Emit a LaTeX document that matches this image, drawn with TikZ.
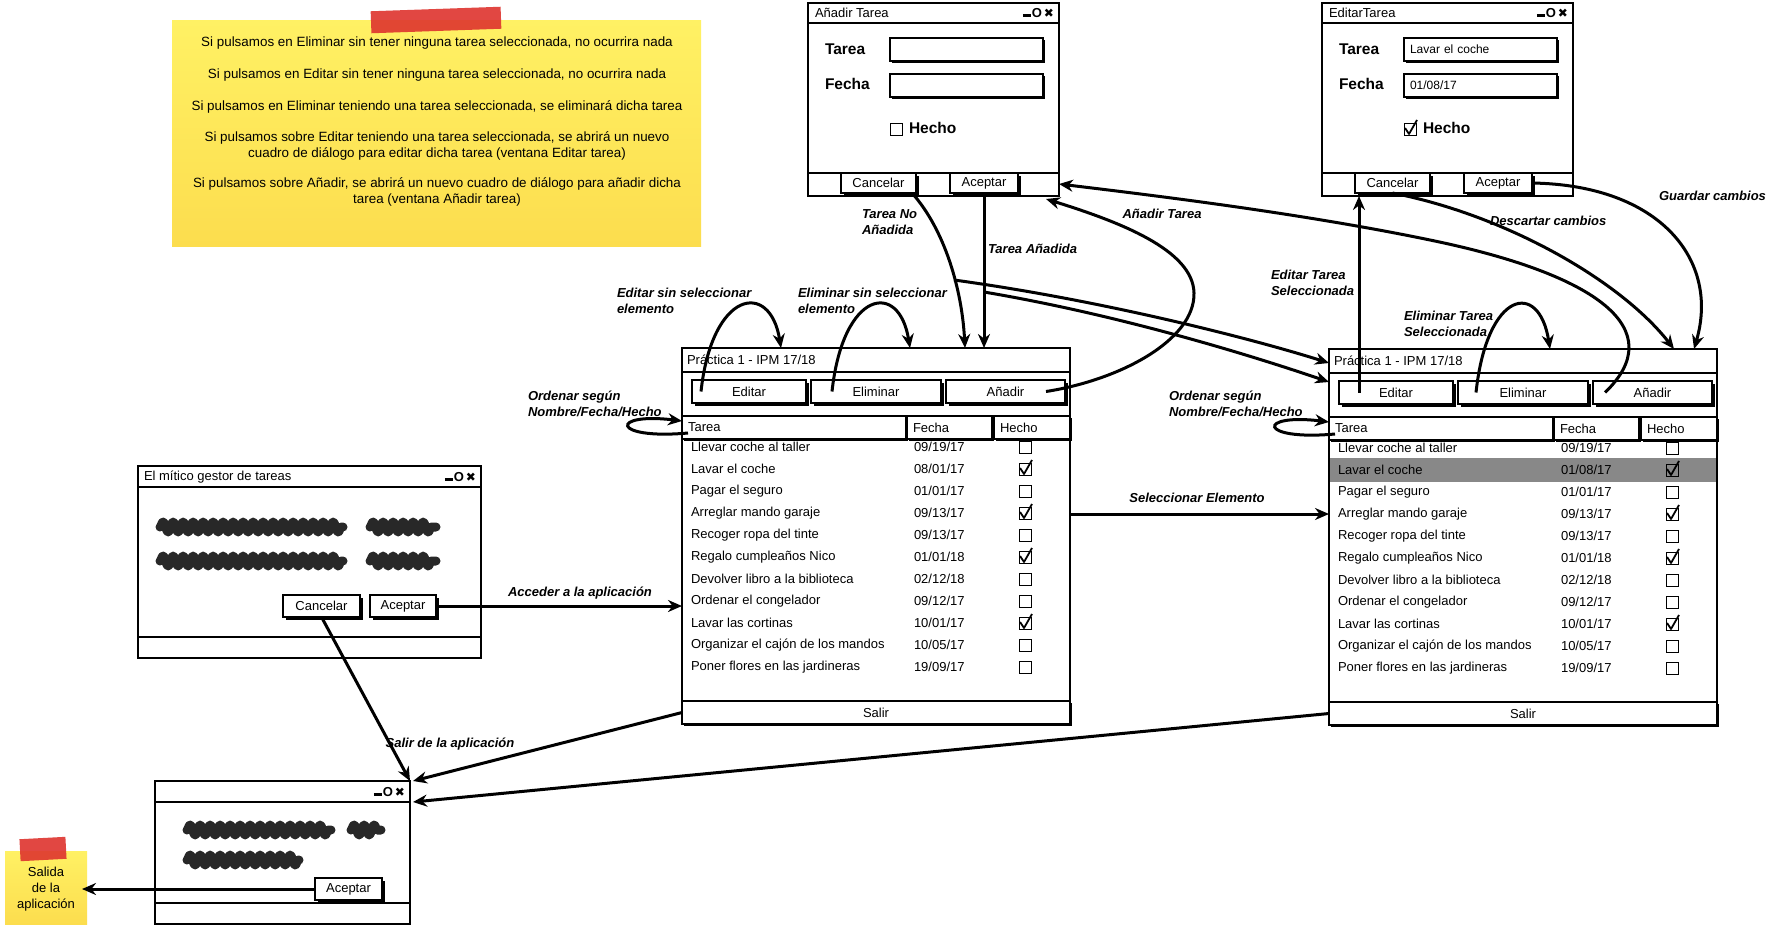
\documentclass[tikz,border=0pt]{standalone}
\usepackage{fontspec}
\setmainfont{Liberation Sans}
\newfontfamily\dejavu{DejaVu Sans}
\usepackage{tikz}
\usetikzlibrary{arrows.meta}
\usetikzlibrary{shadows}
\usetikzlibrary{decorations.pathmorphing}
\tikzset{>={Stealth[length=14pt,width=12pt]}}
\definecolor{notetop}{RGB}{255,241,100}
\definecolor{notebot}{RGB}{252,221,78}
\definecolor{tapered}{RGB}{222,52,46}
\definecolor{rowsel}{RGB}{136,136,136}
\definecolor{ink}{RGB}{40,40,40}
\tikzstyle{win} = [draw, fill=white, line width=2.5pt, inner sep=0, outer sep=0]
\tikzstyle{btn} = [draw, fill=white, line width=2pt, inner sep=0, outer sep=0, font=\fontsize{13}{15}\selectfont, drop shadow={shadow xshift=2.5pt, shadow yshift=-2.5pt, opacity=1, fill=black}]
\tikzstyle{cell} = [draw, fill=white, line width=2pt, inner xsep=6pt, inner ysep=0, outer sep=0, minimum height=23pt, align=left, font=\fontsize{13}{15}\selectfont, drop shadow={shadow xshift=1.5pt, shadow yshift=-1.5pt, opacity=1, fill=black}]
\tikzstyle{field} = [draw, fill=white, line width=2pt, inner xsep=6pt, inner ysep=0, outer sep=0, minimum height=23pt, text width=141pt, align=left, font=\fontsize{12}{14}\selectfont, drop shadow={shadow xshift=1.5pt, shadow yshift=-1.5pt, opacity=1, fill=black}]
\tikzstyle{txt} = [inner sep=0, outer sep=0, anchor=west, font=\fontsize{13}{15}\selectfont]
\tikzstyle{big} = [inner sep=0, outer sep=0, anchor=west, font=\fontsize{15.5}{17}\selectfont\bfseries]
\tikzstyle{chk} = [draw, line width=1pt, minimum size=12pt, inner sep=0, outer sep=0]
\tikzstyle{ticked} = [line width=1.8pt, line join=round]
\tikzstyle{ctl} = [inner sep=0, outer sep=0, anchor=east, font=\fontsize{13}{15}\selectfont\bfseries]
\tikzstyle{scrib} = [draw=ink, line width=9pt, line cap=round, line join=round, decorate, decoration={snake, amplitude=5pt, segment length=10pt}]
\tikzstyle{flow} = [->, line width=3pt]
\tikzstyle{lbl} = [inner sep=0, outer sep=0, align=left, font=\fontsize{13}{16}\selectfont\bfseries\itshape]
\tikzstyle{note} = [top color=notetop, bottom color=notebot, inner sep=0, outer sep=0]
\tikzstyle{tape} = [fill=tapered, fill opacity=.9]

\newcommand\ctlglyphs{\rule[0pt]{8pt}{3pt}\kern1pt O\kern2pt{\dejavu\fontsize{12}{14}\selectfont ✖}}

% dialogo: nombre, x, titulo, tarea, fecha, hecho
\newcommand\dialog[6]{%
\begin{scope}[shift={(#2,3)}]
\node[win, minimum width=251pt, minimum height=193pt, anchor=north west] (#1) at (0,0) {};
\node[win, minimum width=251pt, minimum height=20pt, anchor=north west] (#1-title) at (0,0) {};
\node[txt] (#1-name) at (7,10) {#3};
\node[ctl] (#1-ctl) at (246,10) {\ctlglyphs};
\node[big] (#1-ltarea) at (17,46) {Tarea};
\node[field, anchor=north west] (#1-ftarea) at (82,35) {#4};
\node[big] (#1-lfecha) at (17,81) {Fecha};
\node[field, anchor=north west] (#1-ffecha) at (82,71) {#5};
\node[chk] (#1-chk) at (88,126) {};
\ifnum#6=1 \draw[ticked] (83,125) -- (87,131) -- (95,117); \fi
\node[big] (#1-hecho) at (101,125) {Hecho};
\node[win, minimum width=251pt, minimum height=23pt, anchor=north west] (#1-bar) at (0,170) {};
\node[btn, minimum width=75pt, minimum height=20pt, anchor=north west] (#1-cancel) at (33,170) {Cancelar};
\node[btn, minimum width=68pt, minimum height=20pt, anchor=north west] (#1-ok) at (142,170) {Aceptar};
\end{scope}}

% ventana principal: nombre, x, y, fecha fila 2, color fila 2
\newcommand\mainwin[5]{%
\begin{scope}[shift={(#2,#3)}]
\node[win, minimum width=388pt, minimum height=376pt, anchor=north west] (#1) at (0,0) {};
\node[win, minimum width=388pt, minimum height=24pt, anchor=north west] (#1-title) at (0,0) {};
\node[txt] (#1-name) at (5,12) {Práctica 1 - IPM 17/18};
\node[btn, minimum width=114pt, minimum height=23pt, anchor=north west] (#1-edit) at (10,32) {Editar};
\node[btn, minimum width=130pt, minimum height=23pt, anchor=north west] (#1-del) at (129,32) {Eliminar};
\node[btn, minimum width=119pt, minimum height=23pt, anchor=north west] (#1-add) at (264,32) {Añadir};
\node[cell, text width=212pt, anchor=north west] (#1-htarea) at (0,68) {Tarea};
\node[cell, text width=73pt, anchor=north west] (#1-hfecha) at (225,68) {Fecha};
\node[cell, text width=64pt, anchor=north west] (#1-hhecho) at (312,68) {Hecho};
\fill[#5] (1.3,109) rectangle (386.7,133);
\foreach \k/\tname/\tdate/\tdone in {0/{Llevar coche al taller}/{09/19/17}/0,
  1/{Lavar el coche}/{#4}/1, 2/{Pagar el seguro}/{01/01/17}/0,
  3/{Arreglar mando garaje}/{09/13/17}/1, 4/{Recoger ropa del tinte}/{09/13/17}/0,
  5/{Regalo cumpleaños Nico}/{01/01/18}/1, 6/{Devolver libro a la biblioteca}/{02/12/18}/0,
  7/{Ordenar el congelador}/{09/12/17}/0, 8/{Lavar las cortinas}/{10/01/17}/1,
  9/{Organizar el cajón de los mandos}/{10/05/17}/0, 10/{Poner flores en las jardineras}/{19/09/17}/0}{
  \node[txt] (#1-t\k) at (9,{99+22*\k}) {\tname};
  \node[txt] (#1-d\k) at (232,{99+22*\k}) {\tdate};
  \node[chk] (#1-c\k) at (343,{99+22*\k}) {};
  \ifnum\tdone=1 \draw[ticked] (338,{98+22*\k}) -- (342,{104+22*\k}) -- (350,{90+22*\k}); \fi
}
\node[cell, minimum width=388pt, anchor=north west] (#1-salir) at (0,353) {Salir};
\end{scope}}

\begin{document}
\begin{tikzpicture}[x=1pt, y=-1pt]
\useasboundingbox (0,0) rectangle (1774,927);
\fill[white] (0,0) rectangle (1774,927);

% notas
\node[note, minimum width=529pt, minimum height=226pt, anchor=north west] (help) at (172,20) {};
\fill[tape, rotate around={2:(436,20)}] (371,9) rectangle (501,31);
\node[align=center, inner sep=0, anchor=north, font=\fontsize{13.4}{16}\selectfont] (help-text) at (437,37) {Si pulsamos en Eliminar sin tener ninguna tarea seleccionada, no ocurrira nada\\[16pt]
Si pulsamos en Editar sin tener ninguna tarea seleccionada, no ocurrira nada\\[16pt]
Si pulsamos en Eliminar teniendo una tarea seleccionada, se eliminará dicha tarea\\[15pt]
Si pulsamos sobre Editar teniendo una tarea seleccionada, se abrirá un nuevo\\cuadro de diálogo para editar dicha tarea (ventana Editar tarea)\\[14pt]
Si pulsamos sobre Añadir, se abrirá un nuevo cuadro de diálogo para añadir dicha\\tarea (ventana Añadir tarea)};

\node[note, minimum width=82pt, minimum height=73pt, anchor=north west] (exitnote) at (5,851) {};
\fill[tape, rotate around={3:(43,849)}] (20,838) rectangle (66,860);
\node[align=center, inner sep=0, font=\fontsize{13}{16}\selectfont] (exitnote-text) at (46,889) {Salida\\de la\\aplicación};

% ventanas
\dialog{aw}{808}{Añadir Tarea}{}{}{0}
\dialog{ew}{1322}{EditarTarea}{Lavar el coche}{01/08/17}{1}
\mainwin{m1}{682}{348}{08/01/17}{white}
\mainwin{m2}{1329}{349}{01/08/17}{rowsel}

\begin{scope}[shift={(138,466)}]
\node[win, minimum width=343pt, minimum height=192pt, anchor=north west] (ini) at (0,0) {};
\node[win, minimum width=343pt, minimum height=21pt, anchor=north west] (ini-title) at (0,0) {};
\node[txt] (ini-name) at (6,11) {El mítico gestor de tareas};
\node[ctl] (ini-ctl) at (338,11) {\ctlglyphs};
\draw[scrib] (22,61) -- (205,61);
\draw[scrib] (232,61) -- (298,61);
\draw[scrib] (22,95) -- (205,95);
\draw[scrib] (232,95) -- (298,95);
\node[btn, minimum width=77pt, minimum height=22pt, anchor=north west] (ini-cancel) at (145,129) {Cancelar};
\node[btn, minimum width=66pt, minimum height=22pt, anchor=north west] (ini-ok) at (232,129) {Aceptar};
\node[win, minimum width=343pt, minimum height=21pt, anchor=north west] (ini-status) at (0,171) {};
\end{scope}

\begin{scope}[shift={(155,781)}]
\node[win, minimum width=255pt, minimum height=143pt, anchor=north west] (ex) at (0,0) {};
\node[win, minimum width=255pt, minimum height=21pt, anchor=north west] (ex-title) at (0,0) {};
\node[ctl] (ex-ctl) at (250,11) {\ctlglyphs};
\draw[scrib] (32,49) -- (176,49);
\draw[scrib] (196,49) -- (226,49);
\draw[scrib] (32,79) -- (144,79);
\node[btn, minimum width=67pt, minimum height=22pt, anchor=north west] (ex-ok) at (160,97) {Aceptar};
\node[win, minimum width=255pt, minimum height=21pt, anchor=north west] (ex-status) at (0,122) {};
\end{scope}

% flechas
\draw[flow] (ini-ok.east) -- (ini-ok.east -| m1.west);
\draw[flow] (ini-cancel.south) -- (ex.north east);
\draw[flow] (m1-salir.west) -- ([xshift=3pt]ex.north east);
\draw[flow] (m2-salir.west) -- ([xshift=3pt]ex-title.south east);
\draw[flow, shorten >=-5pt] (ex-ok.west) -- (ex-ok.west -| exitnote.east);
\coordinate (sel) at ([yshift=22pt]m1.east);
\draw[flow] (sel) -- (sel -| m2.west);
\draw[flow] ([xshift=9pt]m1-edit.west) .. controls (712,290) and (770,280) .. ([xshift=99pt]m1.north west);
\draw[flow] ([xshift=21pt]m1-del.west) .. controls (843,290) and (899,280) .. ([xshift=228pt]m1.north west);
\draw[flow] ([xshift=18pt]m2-del.west) .. controls (1487,290) and (1539,280) .. ([xshift=221pt]m2.north west);
\draw[flow] ([xshift=6pt,yshift=6pt]m1-htarea.south west) .. controls (610,440) and (610,412) .. ([yshift=-5pt]m1-htarea.north west);
\draw[flow] ([xshift=6pt,yshift=6pt]m2-htarea.south west) .. controls (1257,441) and (1257,413) .. ([yshift=-5pt]m2-htarea.north west);
\draw[flow] ([xshift=-4pt]aw-cancel.south east) .. controls (945,230) and (962,290) .. ([xshift=283pt]m1.north west);
\draw[flow] (aw-ok.south) -- (aw-ok.south |- m1.north);
\draw[flow] ([xshift=-19pt]m1-add.east) .. controls (1120,380) and (1195,340) .. (1194,293) .. controls (1193,250) and (1120,222) .. ([xshift=-13pt,yshift=-3pt]aw.south east);
\draw[flow] ([xshift=12pt]m2-add.west) .. controls (1670,330) and (1600,275) .. (1430,240) .. controls (1300,213) and (1150,195) .. ([yshift=12pt]aw.south east);
\coordinate (nomid) at (954,280);
\coordinate (simid) at (984,292);
\draw[flow] (nomid) .. controls (1100,300) and (1250,338) .. ([yshift=-14pt]m2.north west);
\draw[flow] (simid) .. controls (1120,315) and (1250,355) .. ([yshift=-33pt]m2.north west);
\coordinate (edsel) at ([xshift=20pt]m2-edit.west);
\draw[flow] (edsel) -- (edsel |- ew.south);
\draw[flow] (ew-cancel.south) .. controls (1505,215) and (1620,280) .. ([xshift=345pt]m2.north west);
\draw[flow] (ew-ok.east) .. controls (1660,185) and (1720,260) .. ([xshift=365pt]m2.north west);

% etiquetas
\node[lbl] (l-acc) at (580,593) {Acceder a la aplicación};
\node[lbl] (l-salir) at (450,744) {Salir de la aplicación};
\node[lbl, anchor=west] (l-noadd) at (862,222) {Tarea No\\Añadida};
\node[lbl, anchor=west] (l-add) at (988,249) {Tarea Añadida};
\node[lbl] (l-addtask) at (1162,214) {Añadir Tarea};
\node[lbl, anchor=west] (l-edno) at (617,301) {Editar sin seleccionar\\elemento};
\node[lbl, anchor=west] (l-elno) at (798,301) {Eliminar sin seleccionar\\elemento};
\node[lbl, anchor=west] (l-ord1) at (528,404) {Ordenar según\\Nombre/Fecha/Hecho};
\node[lbl, anchor=west] (l-ord2) at (1169,404) {Ordenar según\\Nombre/Fecha/Hecho};
\node[lbl] (l-sel) at (1197,498) {Seleccionar Elemento};
\node[lbl, anchor=west] (l-edsel) at (1271,283) {Editar Tarea\\Seleccionada};
\node[lbl, anchor=west] (l-elsel) at (1404,324) {Eliminar Tarea\\Seleccionada};
\node[lbl, anchor=west] (l-desc) at (1490,221) {Descartar cambios};
\node[lbl, anchor=west] (l-guard) at (1659,196) {Guardar cambios};
\end{tikzpicture}
\end{document}
